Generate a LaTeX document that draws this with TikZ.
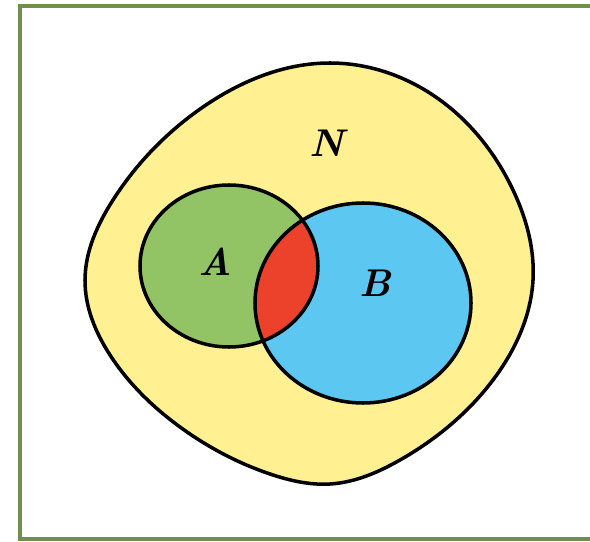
\documentclass[tikz,border=0pt]{standalone}
\usepackage{tikz}
\usetikzlibrary{positioning,hobby}

\definecolor{framegreen}{RGB}{112,142,78}
\definecolor{setN}{RGB}{255,240,145}
\definecolor{setA}{RGB}{146,196,102}
\definecolor{setB}{RGB}{92,200,242}
\definecolor{setAB}{RGB}{236,66,44}

\begin{document}
\begin{tikzpicture}[x=0.03cm,y=-0.03cm]

    \tikzset{
      outline/.style={
        draw=black,
        line width=3pt,
      },
      setname/.style={
        font=\fontsize{33}{38}\selectfont\bfseries\itshape,
        inner sep=0pt,
      },
    }
    \def\blobN{(330,63) .. (440,100) .. (513,190) .. (533,280) .. (493,380) .. (400,460) .. (330,484) .. (270,474) .. (180,427) .. (110,355) .. (85,280) .. (113,200) .. (203,107)}
    \useasboundingbox (0,0) rectangle (590,542);
	\draw[color=framegreen,line width=3pt] (590,6)--(20,6)--(20,539)--(590,539);
	% universe N
	\fill[setN,use Hobby shortcut,closed=true] \blobN;
	% sets A and B
	\fill[setA] (229,266) ellipse [x radius=89,y radius=81];
	\fill[setB] (363,303) ellipse [x radius=108,y radius=100];
	\begin{scope}
	\clip (229,266) ellipse [x radius=89,y radius=81];
	\fill[setAB] (363,303) ellipse [x radius=108,y radius=100];
	\end{scope}
	\draw[outline,use Hobby shortcut,closed=true] \blobN;
	\draw[outline] (229,266) ellipse [x radius=89,y radius=81];
	\draw[outline] (363,303) ellipse [x radius=108,y radius=100];
	\node[setname] (labN) at (327,143) {N};
	\node[setname] (labA) at (215,262) {A};
	\node[setname] (labB) at (375,283) {B};

\end{tikzpicture}
\end{document}
